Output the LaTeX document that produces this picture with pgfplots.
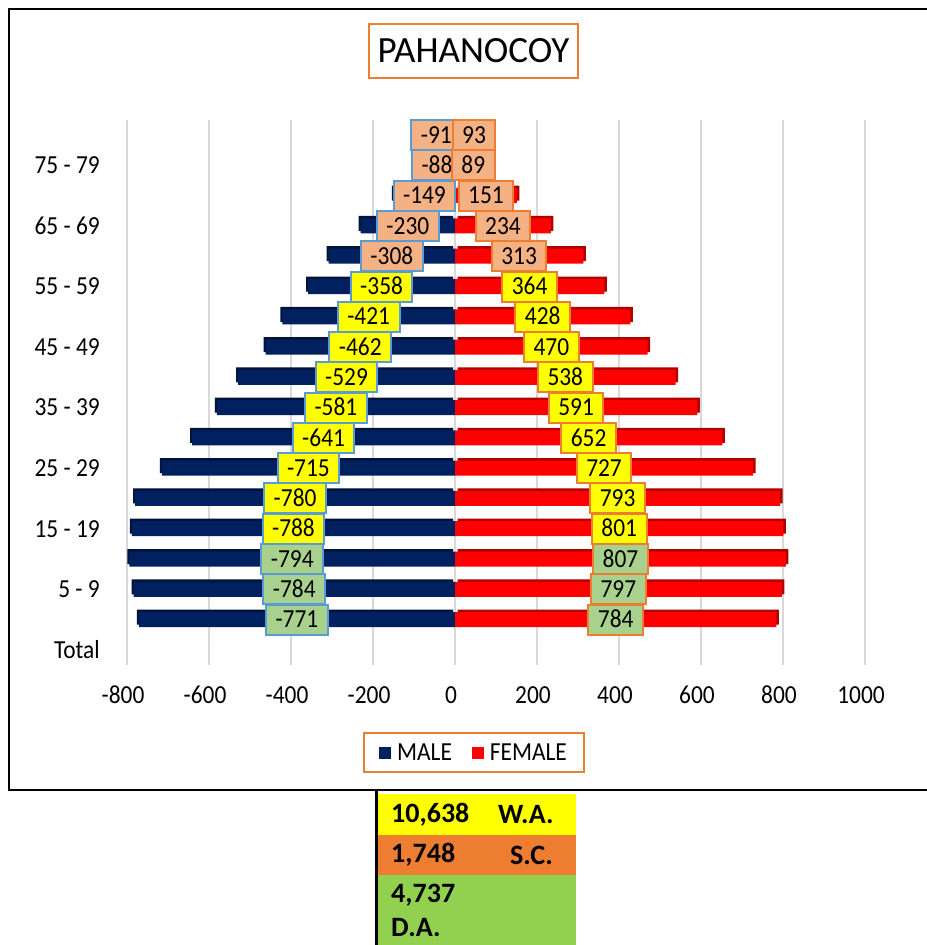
\documentclass[border=0pt]{standalone}
\usepackage{pgfplots}
\pgfplotsset{compat=1.18}
\usepackage{pgfplotstable}
\usepackage{fontspec}
\setmainfont{Carlito}
\newfontfamily\narrow{Carlito}[FakeStretch=0.9]
\definecolor{male}{HTML}{002060}
\definecolor{maleD}{HTML}{00133A}
\definecolor{female}{HTML}{FF0000}
\definecolor{femaleD}{HTML}{B00000}
\definecolor{lblue}{HTML}{5B9BD5}
\definecolor{lorange}{HTML}{ED7D31}
\definecolor{lgreen}{HTML}{A9D18E}
\definecolor{lsalmon}{HTML}{F4B183}
\definecolor{lyellow}{HTML}{FFFF00}
\definecolor{tgreen}{HTML}{92D050}
\definecolor{gridc}{HTML}{D9D9D9}

\pgfplotstableread{
y male female
1 -771 784
2 -784 797
3 -794 807
4 -788 801
5 -780 793
6 -715 727
7 -641 652
8 -581 591
9 -529 538
10 -462 470
11 -421 428
12 -358 364
13 -308 313
14 -230 234
15 -149 151
16 -88 89
17 -91 93
}\pyr

\newcommand{\lblfont}{\narrow\fontsize{26bp}{30bp}\selectfont}
\tikzset{lab/.style={font=\lblfont, line width=2bp,
  minimum height=30bp, inner xsep=9.5bp, inner ysep=0pt, text height=16.2bp, text depth=0bp, anchor=center, text=black}}

\begin{document}
\begin{tikzpicture}[x=1bp,y=1bp]
\useasboundingbox (0,0) rectangle (927,945);
\draw[line width=2.5bp] (9,155) rectangle (940,936);
\node[draw=lorange, line width=2bp, minimum width=209bp, minimum height=54bp,
  inner sep=0pt, font=\fontsize{37bp}{40bp}\selectfont] at (473.5,894) {PAHANOCOY};
\begin{axis}[
  at={(127bp,280bp)}, anchor=south west, scale only axis,
  width=738bp, height=545bp,
  xmin=-800, xmax=1000, ymin=-0.5, ymax=17.5,
  axis line style={draw=none}, major tick length=0pt,
  xtick={-800,-600,...,1000}, ytick={0,2,...,16},
  yticklabels={Total,5 - 9,15 - 19,25 - 29,35 - 39,45 - 49,55 - 59,65 - 69,75 - 79},
  xmajorgrids=true, ymajorgrids=false, grid style={gridc, line width=2bp},
  /pgf/number format/assume math mode=true,
  /pgf/number format/1000 sep={},
  tick label style={font=\lblfont, text=black},
  xticklabel style={anchor=center, yshift=-30bp, xshift=-4bp},
  yticklabel style={anchor=east, inner sep=0pt, xshift=-27bp},
  legend style={at={(axis description cs:0.4702,-0.1606)}, anchor=center,
    draw=lorange, line width=2bp, legend columns=2,
    font=\lblfont, inner xsep=15bp, inner ysep=8bp,
    /tikz/every odd column/.append style={column sep=4bp},
    /tikz/every even column/.append style={column sep=18bp}},
  legend image code/.code={\fill[#1, draw=none] (0bp,-6bp) rectangle (12bp,6bp);},
]
% depth of the bars
\addplot[xbar, bar width=15bp, bar shift=0pt, fill=maleD, draw=none, xshift=-2bp, yshift=2.5bp, forget plot]
  table[x=male, y=y]{\pyr};
\addplot[xbar, bar width=15bp, bar shift=0pt, fill=femaleD, draw=none, xshift=2.5bp, yshift=2.5bp, forget plot]
  table[x=female, y=y]{\pyr};
% bars
\addplot[xbar, bar width=15bp, bar shift=0pt, fill=male, draw=none]
  table[x=male, y=y]{\pyr};
\addlegendentry{MALE}
\addplot[xbar, bar width=15bp, bar shift=0pt, fill=female, draw=none]
  table[x=female, y=y]{\pyr};
\addlegendentry{FEMALE}
% male labels
\addplot[draw=none, mark=none, forget plot, restrict y to domain=0.5:3.5,
  nodes near coords, point meta=explicit symbolic,
  nodes near coords style={lab, fill=lgreen, draw=lblue}]
  table[x expr=\thisrow{male}/2, y=y, meta=male]{\pyr};
\addplot[draw=none, mark=none, forget plot, restrict y to domain=3.5:12.5,
  nodes near coords, point meta=explicit symbolic,
  nodes near coords style={lab, fill=lyellow, draw=lblue}]
  table[x expr=\thisrow{male}/2, y=y, meta=male]{\pyr};
\addplot[draw=none, mark=none, forget plot, restrict y to domain=12.5:17.5,
  nodes near coords, point meta=explicit symbolic,
  nodes near coords style={lab, fill=lsalmon, draw=lblue}]
  table[x expr=\thisrow{male}/2, y=y, meta=male]{\pyr};
% female labels
\addplot[draw=none, mark=none, forget plot, restrict y to domain=0.5:3.5,
  nodes near coords, point meta=explicit symbolic,
  nodes near coords style={lab, fill=lgreen, draw=lorange}]
  table[x expr=\thisrow{female}/2, y=y, meta=female]{\pyr};
\addplot[draw=none, mark=none, forget plot, restrict y to domain=3.5:12.5,
  nodes near coords, point meta=explicit symbolic,
  nodes near coords style={lab, fill=lyellow, draw=lorange}]
  table[x expr=\thisrow{female}/2, y=y, meta=female]{\pyr};
\addplot[draw=none, mark=none, forget plot, restrict y to domain=12.5:17.5,
  nodes near coords, point meta=explicit symbolic,
  nodes near coords style={lab, fill=lsalmon, draw=lorange}]
  table[x expr=\thisrow{female}/2, y=y, meta=female]{\pyr};
\end{axis}
% summary table below the chart
\fill[lyellow] (377,110) rectangle (576,151);
\fill[lorange] (377,70) rectangle (576,110);
\fill[tgreen] (377,0) rectangle (576,70);
\draw[line width=3bp] (376,0) -- (376,156);
\begin{scope}[every node/.style={inner sep=0pt, anchor=west,
   font=\fontsize{28bp}{32bp}\selectfont\bfseries}]
\node at (391,130) {10,638};
\node at (498,130) {W.A.};
\node at (391,90) {1,748};
\node at (510,90) {S.C.};
\node at (391,50) {4,737};
\node at (391,17) {D.A.};
\end{scope}
\end{tikzpicture}
\end{document}
